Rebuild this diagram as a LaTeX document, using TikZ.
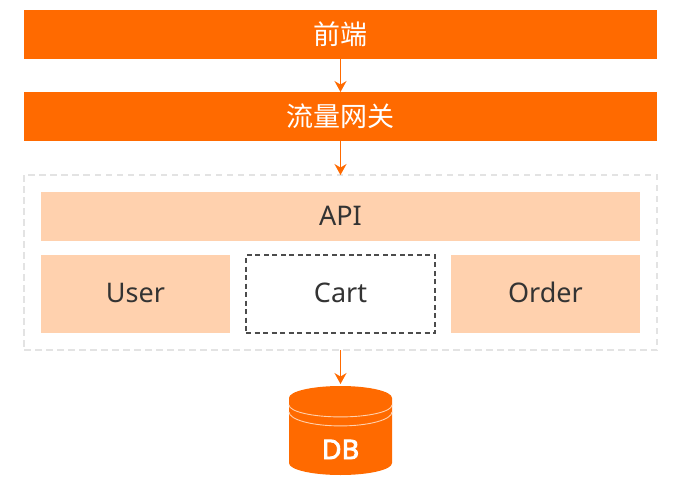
\documentclass[tikz,border=0pt]{standalone}
\usepackage{fontspec}
\setmainfont{Noto Sans}
\newfontfamily\cjk{Noto Sans CJK SC}
\newfontfamily\dbfont[FakeBold=3]{Noto Sans}
\usetikzlibrary{positioning,shapes.geometric,arrows.meta}
\definecolor{orangeM}{HTML}{FF6A00}
\definecolor{orangeL}{HTML}{FFD1AE}
\definecolor{textD}{HTML}{333333}
\tikzset{
  gw/.style={rectangle, minimum width=633pt, minimum height=49pt, inner sep=0pt, outer sep=0pt, text centered, fill=orangeM, text=white, font=\cjk\fontsize{27}{30}\selectfont},
  zone/.style={rectangle, minimum width=633pt, minimum height=175pt, inner sep=0pt, outer sep=0pt, draw=black!11, line width=1.2pt, dash pattern=on 6.5pt off 4.5pt},
  ap/.style={rectangle, minimum width=599pt, minimum height=49pt, inner sep=0pt, outer sep=0pt, text height=18pt, text depth=0pt, text centered, fill=orangeL, text=textD, font=\fontsize{27}{30}\selectfont},
  sv/.style={rectangle, minimum width=189pt, minimum height=78pt, inner sep=0pt, outer sep=0pt, text height=16pt, text depth=0pt, text centered, fill=orangeL, text=textD, font=\fontsize{27}{30}\selectfont},
  svd/.style={sv, fill=white, draw=black!70, line width=1.2pt, dash pattern=on 5pt off 3.5pt},
  dbs/.style={cylinder, shape border rotate=90, aspect=0.64, minimum width=103pt, minimum height=89pt, inner sep=0pt, outer sep=0pt, fill=orangeM, text=white, font=\dbfont\fontsize{27}{30}\selectfont},
  ar/.style={draw=orangeM, line width=1.4pt, -{Stealth[length=11pt,width=12pt]}},
  band/.style={draw=orangeL, line width=0.9pt},
  node distance=33pt
}
\begin{document}
\begin{tikzpicture}[x=1pt,y=1pt]
	\useasboundingbox (0,0) rectangle (681,-485);
	\node[gw] (front) at (340.5,-34.5) {前端};
	\node[gw, below=of front] (gateway) {流量网关};
	\node[zone, below=34pt of gateway] (zone) {};
	\node[ap, below=17pt of zone.north] (api) {API};
	\node[sv, below right=14pt and 0pt of api.south west] (user) {User};
	\node[svd, right=16pt of user] (cart) {Cart};
	\node[sv, right=16pt of cart] (order) {Order};
	\node[dbs, below=36pt of zone] (db) {\raisebox{-22.5pt}[0pt][0pt]{DB}};
	%
	\draw[band] ([yshift=-7pt]db.before top) arc[start angle=180, end angle=360, x radius=51.5, y radius=12];
	\draw[band] ([yshift=-14pt]db.before top) arc[start angle=180, end angle=360, x radius=51.5, y radius=14];
	%
	\draw[ar] (front) -- (gateway);
	\draw[ar] (gateway) -- (zone);
	\draw[ar, shorten >=2pt] (zone) -- (db);
\end{tikzpicture}
\end{document}
